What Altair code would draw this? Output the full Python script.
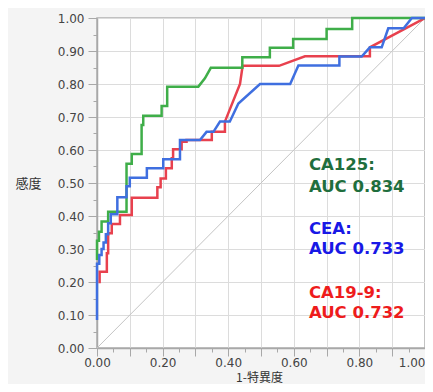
import altair as alt
import pandas as pd

# ---- data ----
green_x = [0, 0, 0.006, 0.006, 0.014, 0.014, 0.034, 0.034, 0.090, 0.090, 0.106, 0.106,
           0.136, 0.136, 0.141, 0.141, 0.197, 0.197, 0.214, 0.214, 0.309, 0.329, 0.347,
           0.443, 0.443, 0.527, 0.527, 0.598, 0.598, 0.700, 0.700, 0.778, 0.778, 1.0]
green_y = [0.267, 0.325, 0.325, 0.352, 0.352, 0.383, 0.383, 0.413, 0.413, 0.558, 0.558, 0.588,
           0.588, 0.676, 0.676, 0.704, 0.704, 0.733, 0.733, 0.792, 0.792, 0.817, 0.849,
           0.849, 0.881, 0.881, 0.910, 0.910, 0.936, 0.936, 0.967, 0.967, 1.0, 1.0]

blue_x = [0, 0, 0.007, 0.007, 0.014, 0.014, 0.020, 0.020, 0.027, 0.027, 0.034, 0.034,
          0.042, 0.042, 0.062, 0.062, 0.090, 0.090, 0.100, 0.100, 0.152, 0.152, 0.202, 0.202,
          0.253, 0.253, 0.314, 0.334, 0.355, 0.375, 0.405, 0.431, 0.497, 0.589, 0.614, 0.739,
          0.739, 0.807, 0.832, 0.868, 0.888, 0.935, 0.960, 1.0]
blue_y = [0.085, 0.255, 0.255, 0.282, 0.282, 0.300, 0.300, 0.320, 0.320, 0.345, 0.345, 0.378,
          0.378, 0.405, 0.405, 0.457, 0.457, 0.490, 0.490, 0.516, 0.516, 0.545, 0.545, 0.572,
          0.572, 0.630, 0.630, 0.655, 0.655, 0.686, 0.686, 0.741, 0.800, 0.800, 0.856, 0.856,
          0.883, 0.883, 0.911, 0.911, 0.969, 0.969, 1.0, 1.0]

red_x = [0.008, 0.008, 0.030, 0.030, 0.034, 0.034, 0.045, 0.045, 0.070, 0.070, 0.106, 0.106,
         0.184, 0.184, 0.194, 0.194, 0.210, 0.210, 0.228, 0.228, 0.232, 0.232, 0.258, 0.258,
         0.273, 0.273, 0.350, 0.350, 0.390, 0.390, 0.436, 0.444, 0.555, 0.634, 0.832, 0.832, 1.0]
red_y = [0.196, 0.231, 0.231, 0.287, 0.287, 0.348, 0.348, 0.376, 0.376, 0.403, 0.403, 0.455,
         0.455, 0.487, 0.487, 0.514, 0.514, 0.545, 0.545, 0.575, 0.575, 0.602, 0.602, 0.625,
         0.625, 0.630, 0.630, 0.655, 0.655, 0.686, 0.800, 0.855, 0.855, 0.884, 0.884, 0.911, 1.0]

series_names = ["CA19-9", "CA125", "CEA"]
series_colors = ["#e8414e", "#3fae49", "#3f6fe0"]

label_lines = ["CA125:", "AUC 0.834", "CEA:", "AUC 0.733", "CA19-9:", "AUC 0.732"]
label_x = [0.646, 0.646, 0.646, 0.646, 0.646, 0.646]
label_y = [0.555, 0.488, 0.361, 0.300, 0.167, 0.106]
label_colors = ["#1f6e3d", "#1f6e3d", "#1818e6", "#1818e6", "#ee1c1c", "#ee1c1c"]

diag_x = [0.0, 1.0]
diag_y = [0.0, 1.0]

tick_values = [round(i * 0.05, 2) for i in range(21)]

# ---- tables ----
rows = []
for name, xs, ys in zip(series_names, [red_x, green_x, blue_x], [red_y, green_y, blue_y]):
    for i, (a, b) in enumerate(zip(xs, ys)):
        rows.append({"series": name, "order": i, "fpr": a, "tpr": b})
curves = pd.DataFrame(rows)
diag = pd.DataFrame({"fpr": diag_x, "tpr": diag_y})
labels = pd.DataFrame({"fpr": label_x, "tpr": label_y, "text": label_lines, "color": label_colors})

minor = "round(datum.value*20) % 2 == 1"

x_scale = alt.Scale(domain=[0, 1], nice=False, zero=False)
y_scale = alt.Scale(domain=[0, 1], nice=False, zero=False)

x_axis = alt.Axis(
    values=tick_values,
    labelExpr="round(datum.value*20) % 4 == 0 ? format(datum.value, '.2f') : ''",
    labelAlign={"condition": {"test": "datum.value >= 0.99", "value": "right"}, "value": "center"},
    tickSize={"condition": {"test": minor, "value": 4}, "value": 8},
    gridOpacity={"condition": {"test": minor, "value": 0}, "value": 1},
    labelFlush=False, labelOverlap=False, labelBound=False,
    title="1-特異度",
    titleX=162, titleY=29, titleBaseline="middle", titleAlign="center", titleFontSize=12,
    labelPadding=1,
)
y_axis = alt.Axis(
    values=tick_values,
    labelExpr="round(datum.value*20) % 2 == 0 ? format(datum.value, '.2f') : ''",
    tickSize={"condition": {"test": minor, "value": 4}, "value": 9},
    gridOpacity={"condition": {"test": minor, "value": 0}, "value": 1},
    labelFlush=False, labelOverlap=False, labelBound=False,
    title="感度",
    titleAngle=0, titleX=-69, titleY=165, titleBaseline="middle", titleAlign="center",
    labelPadding=4,
)

base_x = alt.X("fpr:Q", scale=x_scale, axis=x_axis)
base_y = alt.Y("tpr:Q", scale=y_scale, axis=y_axis)

diag_layer = alt.Chart(diag).mark_line(color="#c4c4c4", strokeWidth=1).encode(
    x=base_x, y=base_y
)

curve_layer = alt.Chart(curves).mark_line(strokeWidth=2.5, interpolate="linear").encode(
    x=base_x,
    y=base_y,
    color=alt.Color("series:N", scale=alt.Scale(domain=series_names, range=series_colors), legend=None),
    order="order:Q",
)

text_layer = alt.Chart(labels).mark_text(
    align="left", baseline="middle", fontWeight="bold", fontSize=16.5, font="DejaVu Sans"
).encode(
    x=base_x, y=base_y, text="text:N", color=alt.Color("color:N", scale=None)
)

chart = (
    alt.layer(diag_layer, curve_layer, text_layer)
    .properties(
        width=328,
        height=330,
        autosize=alt.AutoSizeParams(type="none"),
        padding={"left": 89, "top": 10, "right": 0, "bottom": 36},
        background="#f4f4f4",
    )
    .configure_view(fill="white", stroke="#b0b0b0", strokeWidth=1.5)
    .configure_axis(
        labelFont="DejaVu Sans", labelFontSize=12, labelColor="#444444",
        titleFont="Noto Sans CJK JP", titleFontSize=13, titleColor="#333333", titleFontWeight="normal",
        gridColor="#dcdcdc", gridWidth=1,
        domainColor="#a8a8a8", domainWidth=1.5,
        tickColor="#a8a8a8", tickWidth=1,
    )
)

chart.save("out.html", embed_options={"renderer": "svg", "actions": False})
